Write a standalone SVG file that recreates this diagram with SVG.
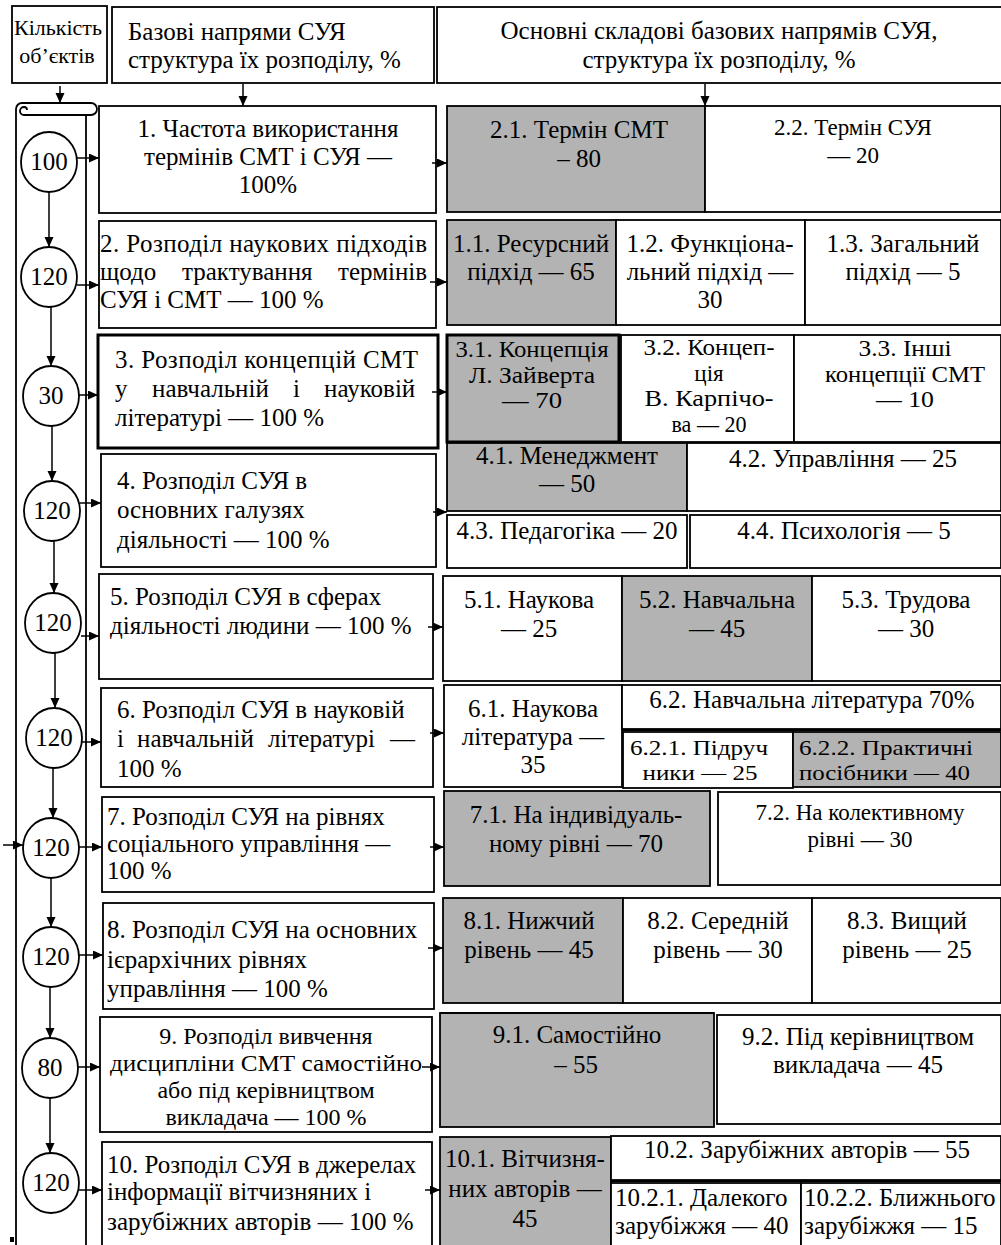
<svg xmlns="http://www.w3.org/2000/svg" width="1001" height="1245" viewBox="0 0 1001 1245">
<style>
.b{fill:#fff;stroke:#000;stroke-width:1.8}
.g{fill:#b3b3b3;stroke:#000;stroke-width:1.8}
.th{stroke-width:3}
.t{font-family:"Liberation Serif","Times New Roman",serif;font-size:25px;fill:#000}
.c{text-anchor:middle}
.s{font-size:23px}
.m{font-size:24px}
.n{font-size:22px}
.p{font-size:23px}
.k{font-size:22px}
.con{stroke:#000;stroke-width:1.5;fill:none}
.ln{stroke:#000;stroke-width:1.8;fill:none}
</style>
<defs>
<marker id="ah" markerUnits="userSpaceOnUse" markerWidth="11" markerHeight="10" refX="10" refY="4.5" orient="auto">
<path d="M0,0 L10,4.5 L0,9 z" fill="#000"/>
</marker>
</defs>
<rect width="1001" height="1245" fill="#fff"/>

<g id="header-count">
<rect class="b" x="12" y="6" width="95" height="77"/>
<text class="t k c" x="58" y="35">Кількість</text>
<text class="t k c" x="57" y="63">об’єктів</text>
</g>
<g id="header-base">
<rect class="b" x="112" y="7" width="322" height="76"/>
<text class="t" x="128" y="40">Базові напрями СУЯ</text>
<text class="t" x="128" y="68">структура їх розподілу, %</text>
</g>
<g id="header-components">
<rect class="b" x="437" y="7" width="566" height="76"/>
<text class="t c" x="719" y="39">Основні складові базових напрямів СУЯ,</text>
<text class="t c" x="719" y="68">структура їх розподілу, %</text>
</g>

<g id="scroll">
<path class="ln" d="M22,103 H91 A6,6 0 0 1 91,115 H24"/>
<path class="ln" d="M22,103 A6,6 0 0 0 16,109 V1250"/>
<path class="ln" d="M24,115 A4,4 0 0 1 24,107 A3,3 0 0 1 27,110"/>
<path class="ln" d="M86,115 V1250"/>
<rect x="10" y="1237" width="4" height="5" fill="#000"/>
</g>

<g id="counts">
<g id="n1"><ellipse class="b" cx="49" cy="162" rx="28" ry="30"/><text class="t c" x="49" y="170">100</text></g>
<g id="n2"><ellipse class="b" cx="49" cy="277" rx="28" ry="30"/><text class="t c" x="49" y="285">120</text></g>
<g id="n3"><ellipse class="b" cx="51" cy="396" rx="28" ry="30"/><text class="t c" x="51" y="404">30</text></g>
<g id="n4"><ellipse class="b" cx="52" cy="511" rx="28" ry="30"/><text class="t c" x="52" y="519">120</text></g>
<g id="n5"><ellipse class="b" cx="53" cy="623" rx="28" ry="30"/><text class="t c" x="53" y="631">120</text></g>
<g id="n6"><ellipse class="b" cx="54" cy="738" rx="28" ry="30"/><text class="t c" x="54" y="746">120</text></g>
<g id="n7"><ellipse class="b" cx="51" cy="848" rx="28" ry="30"/><text class="t c" x="51" y="856">120</text></g>
<g id="n8"><ellipse class="b" cx="51" cy="957" rx="28" ry="30"/><text class="t c" x="51" y="965">120</text></g>
<g id="n9"><ellipse class="b" cx="50" cy="1068" rx="28" ry="30"/><text class="t c" x="50" y="1076">80</text></g>
<g id="n10"><ellipse class="b" cx="51" cy="1183" rx="28" ry="30"/><text class="t c" x="51" y="1191">120</text></g>
</g>

<g id="base">
<g id="b1"><rect class="b" x="99" y="106" width="337" height="107"/>
<text class="t c" x="268" y="137">1. Частота використання</text>
<text class="t c" x="268" y="165">термінів СМТ і СУЯ —</text>
<text class="t c" x="268" y="193">100%</text></g>
<g id="b2"><rect class="b" x="99" y="221" width="337" height="107"/>
<text class="t" x="100" y="252" textLength="327" lengthAdjust="spacing">2. Розподіл наукових підходів</text>
<text class="t" y="280"><tspan x="100">щодо</tspan><tspan x="182">трактування</tspan><tspan x="338">термінів</tspan></text>
<text class="t" x="100" y="308">СУЯ і СМТ — 100 %</text></g>
<g id="b3"><rect class="b th" x="98" y="335" width="340" height="113"/>
<text class="t" x="115" y="368" textLength="303" lengthAdjust="spacing">3. Розподіл концепцій СМТ</text>
<text class="t" y="397"><tspan x="115">у</tspan><tspan x="152">навчальній</tspan><tspan x="293">і</tspan><tspan x="324">науковій</tspan></text>
<text class="t" x="115" y="426">літературі — 100 %</text></g>
<g id="b4"><rect class="b" x="101" y="454" width="335" height="113"/>
<text class="t" x="117" y="489">4. Розподіл СУЯ в</text>
<text class="t" x="117" y="518">основних галузях</text>
<text class="t" x="117" y="548">діяльності — 100 %</text></g>
<g id="b5"><rect class="b" x="99" y="574" width="334" height="105"/>
<text class="t" x="110" y="605">5. Розподіл СУЯ в сферах</text>
<text class="t" x="110" y="634">діяльності людини — 100 %</text></g>
<g id="b6"><rect class="b" x="101" y="688" width="332" height="99"/>
<text class="t" x="117" y="718">6. Розподіл СУЯ в науковій</text>
<text class="t" y="747"><tspan x="117">і</tspan><tspan x="137">навчальній</tspan><tspan x="268">літературі</tspan><tspan x="390">—</tspan></text>
<text class="t" x="117" y="777">100 %</text></g>
<g id="b7"><rect class="b" x="102" y="797" width="332" height="95"/>
<text class="t" x="107" y="825">7. Розподіл СУЯ на рівнях</text>
<text class="t" x="107" y="852">соціального управління —</text>
<text class="t" x="107" y="879">100 %</text></g>
<g id="b8"><rect class="b" x="103" y="903" width="331" height="106"/>
<text class="t" x="107" y="938">8. Розподіл СУЯ на основних</text>
<text class="t" x="107" y="968">ієрархічних рівнях</text>
<text class="t" x="107" y="997">управління — 100 %</text></g>
<g id="b9"><rect class="b" x="100" y="1017" width="332" height="115"/>
<text class="t m c" x="266" y="1044">9. Розподіл вивчення</text>
<text class="t m c" x="266" y="1071" textLength="312" lengthAdjust="spacingAndGlyphs">дисципліни СМТ самостійно</text>
<text class="t m c" x="266" y="1098">або під керівництвом</text>
<text class="t m c" x="266" y="1125">викладача — 100 %</text></g>
<g id="b10"><rect class="b" x="102" y="1142" width="330" height="115"/>
<text class="t" x="107" y="1173">10. Розподіл СУЯ в джерелах</text>
<text class="t" x="107" y="1200">інформації вітчизняних і</text>
<text class="t" x="107" y="1230">зарубіжних авторів — 100 %</text></g>
</g>

<g id="components">
<g id="r1">
<rect class="g" x="447" y="106" width="258" height="106"/>
<text class="t c" x="579" y="138">2.1. Термін СМТ</text>
<text class="t c" x="579" y="167">– 80</text>
<rect class="b" x="705" y="106" width="296" height="106"/>
<text class="t s c" x="853" y="135">2.2. Термін СУЯ</text>
<text class="t s c" x="853" y="163">— 20</text>
</g>
<g id="r2">
<rect class="g" x="447" y="220" width="169" height="105"/>
<text class="t c" x="531" y="252">1.1. Ресурсний</text>
<text class="t c" x="531" y="280">підхід — 65</text>
<rect class="b" x="616" y="220" width="189" height="105"/>
<text class="t c" x="710" y="252">1.2. Функціона-</text>
<text class="t c" x="710" y="280">льний підхід —</text>
<text class="t c" x="710" y="308">30</text>
<rect class="b" x="805" y="220" width="196" height="105"/>
<text class="t c" x="903" y="252">1.3. Загальний</text>
<text class="t c" x="903" y="280">підхід — 5</text>
</g>
<g id="r3">
<rect class="g th" x="447" y="335" width="172" height="107"/>
<text class="t p c" x="532" y="357" textLength="153" lengthAdjust="spacingAndGlyphs">3.1. Концепція</text>
<text class="t p c" x="532" y="382.5" textLength="126" lengthAdjust="spacingAndGlyphs">Л. Зайверта</text>
<text class="t p c" x="532" y="408" textLength="60" lengthAdjust="spacingAndGlyphs">— 70</text>
<rect class="b" x="621" y="335" width="173" height="107"/>
<text class="t p c" x="709" y="355" textLength="131" lengthAdjust="spacingAndGlyphs">3.2. Концеп-</text>
<text class="t p c" x="709" y="380.5">ція</text>
<text class="t p c" x="709" y="406" textLength="129" lengthAdjust="spacingAndGlyphs">В. Карпічо-</text>
<text class="t p c" x="709" y="431.5" textLength="75" lengthAdjust="spacingAndGlyphs">ва — 20</text>
<rect class="b" x="794" y="335" width="207" height="107"/>
<text class="t p c" x="905" y="356" textLength="93" lengthAdjust="spacingAndGlyphs">3.3. Інші</text>
<text class="t p c" x="905" y="381.5" textLength="160" lengthAdjust="spacingAndGlyphs">концепції СМТ</text>
<text class="t p c" x="905" y="407" textLength="58" lengthAdjust="spacingAndGlyphs">— 10</text>
</g>
<g id="r4">
<rect class="g" x="447" y="443" width="240" height="68"/>
<text class="t c" x="567" y="464">4.1. Менеджмент</text>
<text class="t c" x="567" y="492">— 50</text>
<rect class="b" x="687" y="443" width="314" height="68"/>
<text class="t c" x="843" y="467">4.2. Управління — 25</text>
<rect class="b" x="447" y="515" width="240" height="53"/>
<text class="t c" x="567" y="539">4.3. Педагогіка — 20</text>
<rect class="b" x="690" y="515" width="311" height="53"/>
<text class="t c" x="844" y="539">4.4. Психологія — 5</text>
</g>
<g id="r5">
<rect class="b" x="443" y="576" width="179" height="105"/>
<text class="t c" x="529" y="608">5.1. Наукова</text>
<text class="t c" x="529" y="637">— 25</text>
<rect class="g" x="622" y="576" width="190" height="105"/>
<text class="t c" x="717" y="608">5.2. Навчальна</text>
<text class="t c" x="717" y="637">— 45</text>
<rect class="b" x="812" y="576" width="189" height="105"/>
<text class="t c" x="906" y="608">5.3. Трудова</text>
<text class="t c" x="906" y="637">— 30</text>
</g>
<g id="r6">
<rect class="b" x="444" y="685" width="178" height="102"/>
<text class="t c" x="533" y="717">6.1. Наукова</text>
<text class="t c" x="533" y="745">література —</text>
<text class="t c" x="533" y="773">35</text>
<rect class="b" x="622" y="685" width="379" height="44"/>
<text class="t c" x="812" y="708">6.2. Навчальна література 70%</text>
<path class="ln th" d="M622,730 H1001"/>
<rect class="b" x="623" y="732" width="170" height="56"/>
<text class="t n c" x="699" y="755" textLength="138" lengthAdjust="spacingAndGlyphs">6.2.1. Підруч</text>
<text class="t n c" x="700" y="779.5" textLength="115" lengthAdjust="spacingAndGlyphs">ники — 25</text>
<rect class="g" x="793" y="732" width="208" height="55"/>
<text class="t n" x="799" y="755" textLength="174" lengthAdjust="spacingAndGlyphs">6.2.2. Практичні</text>
<text class="t n" x="799" y="779.5" textLength="171" lengthAdjust="spacingAndGlyphs">посібники — 40</text>
</g>
<g id="r7">
<rect class="g" x="444" y="791" width="266" height="95"/>
<text class="t c" x="576" y="823">7.1. На індивідуаль-</text>
<text class="t c" x="576" y="852">ному рівні — 70</text>
<rect class="b" x="718" y="792" width="283" height="93"/>
<text class="t s c" x="860" y="820">7.2. На колективному</text>
<text class="t s c" x="860" y="847">рівні — 30</text>
</g>
<g id="r8">
<rect class="g" x="443" y="898" width="180" height="105"/>
<text class="t c" x="529" y="929">8.1. Нижчий</text>
<text class="t c" x="529" y="958">рівень — 45</text>
<rect class="b" x="623" y="898" width="189" height="105"/>
<text class="t c" x="718" y="929">8.2. Середній</text>
<text class="t c" x="718" y="958">рівень — 30</text>
<rect class="b" x="812" y="898" width="189" height="105"/>
<text class="t c" x="907" y="929">8.3. Вищий</text>
<text class="t c" x="907" y="958">рівень — 25</text>
</g>
<g id="r9">
<rect class="g" x="440" y="1013" width="274" height="114"/>
<path class="ln th" d="M440,1013 H714"/>
<text class="t c" x="577" y="1043">9.1. Самостійно</text>
<text class="t c" x="576" y="1073">– 55</text>
<rect class="b" x="717" y="1015" width="284" height="109"/>
<text class="t c" x="858" y="1045">9.2. Під керівництвом</text>
<text class="t c" x="858" y="1073">викладача — 45</text>
</g>
<g id="r10">
<rect class="g" x="440" y="1137" width="171" height="120"/>
<text class="t c" x="525" y="1167">10.1. Вітчизня-</text>
<text class="t c" x="525" y="1197">них авторів —</text>
<text class="t c" x="525" y="1227">45</text>
<rect class="b" x="611" y="1136" width="390" height="44"/>
<text class="t c" x="807" y="1158">10.2. Зарубіжних авторів — 55</text>
<path class="ln th" d="M611,1181 H1001"/>
<rect class="b" x="611" y="1183" width="190" height="70"/>
<text class="t" x="615" y="1206">10.2.1. Далекого</text>
<text class="t" x="615" y="1234">зарубіжжя — 40</text>
<rect class="b" x="801" y="1183" width="200" height="70"/>
<text class="t" x="804" y="1206">10.2.2. Ближнього</text>
<text class="t" x="804" y="1234">зарубіжжя — 15</text>
</g>
</g>

<g id="connectors" class="con">
<path d="M60,86 V103" marker-end="url(#ah)"/>
<path d="M243,84 V106" marker-end="url(#ah)"/>
<path d="M705,84 V106" marker-end="url(#ah)"/>
<path d="M49,192 V247" marker-end="url(#ah)"/>
<path d="M51,307 V366" marker-end="url(#ah)"/>
<path d="M52,426 V481" marker-end="url(#ah)"/>
<path d="M54,541 V593" marker-end="url(#ah)"/>
<path d="M55,653 V708" marker-end="url(#ah)"/>
<path d="M53,768 V818" marker-end="url(#ah)"/>
<path d="M51,878 V927" marker-end="url(#ah)"/>
<path d="M50,987 V1038" marker-end="url(#ah)"/>
<path d="M50,1098 V1153" marker-end="url(#ah)"/>
<path d="M77,158 H99" marker-end="url(#ah)"/>
<path d="M77,285 H99" marker-end="url(#ah)"/>
<path d="M79,395 H98" marker-end="url(#ah)"/>
<path d="M80,503 H101" marker-end="url(#ah)"/>
<path d="M81,636 H99" marker-end="url(#ah)"/>
<path d="M82,742 H101" marker-end="url(#ah)"/>
<path d="M79,847 H102" marker-end="url(#ah)"/>
<path d="M79,955 H103" marker-end="url(#ah)"/>
<path d="M78,1067 H100" marker-end="url(#ah)"/>
<path d="M79,1190 H102" marker-end="url(#ah)"/>
<path d="M3,845 H23" marker-end="url(#ah)"/>
<path d="M432,163 H447" marker-end="url(#ah)"/>
<path d="M430,282 H447" marker-end="url(#ah)"/>
<path d="M432,392 H447" marker-end="url(#ah)"/>
<path d="M433,512 H447" marker-end="url(#ah)"/>
<path d="M428,627 H443" marker-end="url(#ah)"/>
<path d="M430,733 H444" marker-end="url(#ah)"/>
<path d="M430,847 H444" marker-end="url(#ah)"/>
<path d="M428,948 H443" marker-end="url(#ah)"/>
<path d="M422,1067 H440" marker-end="url(#ah)"/>
<path d="M425,1190 H440" marker-end="url(#ah)"/>
</g>
</svg>
